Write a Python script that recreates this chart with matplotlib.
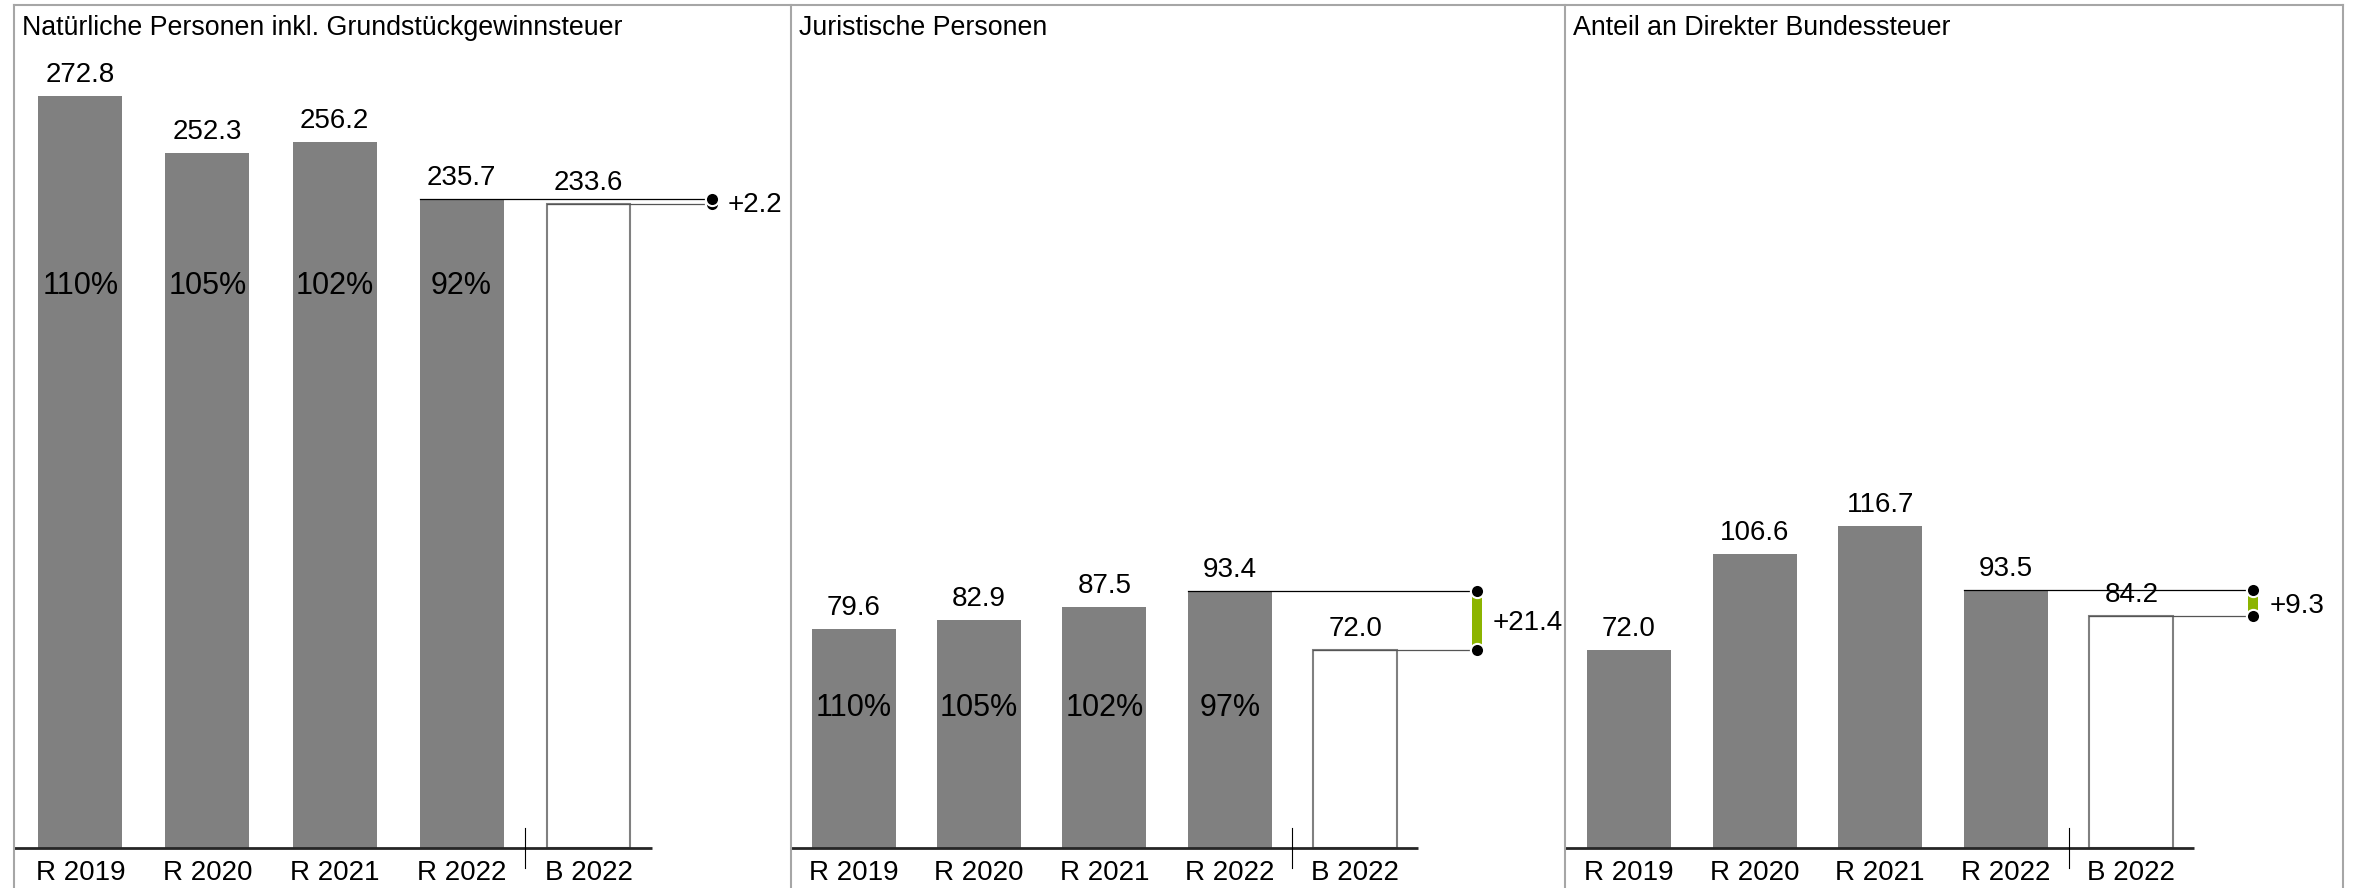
import matplotlib.pyplot as plt
from matplotlib.lines import Line2D

plt.rcParams['font.family'] = ['Liberation Sans', 'DejaVu Sans']

# data
categories = ["R 2019", "R 2020", "R 2021", "R 2022", "B 2022"]
titles = ["Natürliche Personen inkl. Grundstückgewinnsteuer",
          "Juristische Personen",
          "Anteil an Direkter Bundessteuer"]
natural = [272.8, 252.3, 256.2, 235.7, 233.6]
legal = [79.6, 82.9, 87.5, 93.4, 72.0]
share = [72.0, 106.6, 116.7, 93.5, 84.2]
natural_pct = ["110%", "105%", "102%", "92%"]
legal_pct = ["110%", "105%", "102%", "97%"]
deltas = ["+2.2", "+21.4", "+9.3"]

series = [natural, legal, share]
pcts = [natural_pct, legal_pct, None]
pct_y = [201, 48, None]

W, H = 2354, 888
PX = 2.755        # pixels per unit of value
BASE = 848        # pixel row of the zero line
# panel left edge, width, bar step, offset of first bar centre (pixels)
panels = [(14, 777, 127.0, 66.5), (791, 774, 125.4, 62.5),
          (1565, 778, 125.6, 64.0)]

GREY = '#808080'
GREEN = '#8cb400'
FS = 20

fig = plt.figure(figsize=(W / 100, H / 100), dpi=100)

for i, (left, width, step, off) in enumerate(panels):
    ax = fig.add_axes([left / W, 0, width / W, 1])
    ax.axis('off')
    x0 = -off / step
    ax.set_xlim(x0, x0 + width / step)
    ax.set_ylim(-(H - BASE) / PX, BASE / PX)

    vals = series[i]
    xs = list(range(len(vals)))
    bw = 84 / step

    ax.bar(xs[:4], vals[:4], width=bw, color=GREY, zorder=2)
    ax.bar(xs[4], vals[4], width=bw, facecolor='white', edgecolor=GREY,
           lw=1.5, zorder=2)

    for x, v in zip(xs, vals):
        ax.text(x, v + 14 / PX, f"{v:.1f}", ha='center', va='baseline',
                fontsize=FS, zorder=5)
    for x, c in zip(xs, categories):
        ax.text(x, -32 / PX, c, ha='center', va='baseline', fontsize=FS)

    if pcts[i]:
        for x, p in zip(xs, pcts[i]):
            ax.text(x, pct_y[i], p, ha='center', va='baseline', fontsize=22,
                    zorder=5)

    # zero line and separator
    ax.plot([x0, 4.5], [0, 0], color='#262626', lw=2,
            solid_capstyle='butt', zorder=4)
    ax.plot([3.5, 3.5], [20 / PX, -20 / PX], color='black', lw=0.8, zorder=4)

    # difference actual vs budget
    r, b = vals[3], vals[4]
    dx = 4.97
    ax.plot([3 - bw / 2, dx], [r, r], color='black', lw=0.9, zorder=3)
    ax.plot([4 - bw / 2, dx], [b, b], color='#555555', lw=0.9, zorder=3)
    lo, hi = min(r, b), max(r, b)
    ax.bar(dx, hi - lo, bottom=lo, width=10 / step, color=GREEN, zorder=3)
    ax.plot(dx, lo, 'o', ms=9.5, color='black', mec='white', mew=1.5, zorder=4)
    ax.plot(dx, hi, 'o', ms=9.5, color='black', mec='white', mew=1.5, zorder=4)
    ax.text(dx + 16 / step, (r + b) / 2 - 10 / PX, deltas[i], ha='left',
            va='baseline', fontsize=FS)

    fig.text((left + 8) / W, 1 - 35 / H, titles[i], ha='left',
             va='baseline', fontsize=19.3)

# panel frames
border = '#a6a6a6'
fig.add_artist(Line2D([14 / W, 2343 / W], [1 - 5 / H, 1 - 5 / H],
                      transform=fig.transFigure, color=border, lw=1.5))
for xp in [14, 791, 1565, 2343]:
    fig.add_artist(Line2D([xp / W, xp / W], [1 - 5 / H, 0],
                          transform=fig.transFigure, color=border, lw=1.5))

fig.savefig('out.png', dpi=100)
